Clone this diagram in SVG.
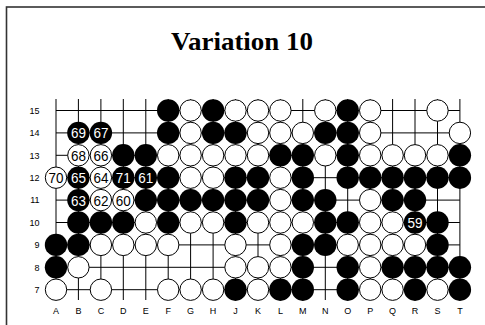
<svg xmlns="http://www.w3.org/2000/svg" width="485" height="325" viewBox="0 0 485 325">
<style>
.grid line{stroke:#000;stroke-width:1}
.b{fill:#000}
.w{fill:#fff;stroke:#000;stroke-width:1}
.lbl{font-family:"Liberation Sans",Arial,sans-serif;font-size:9px;fill:#000}
.nb{font-family:"Liberation Sans",Arial,sans-serif;font-size:15px;fill:#fff;text-anchor:middle}
.nw{font-family:"Liberation Sans",Arial,sans-serif;font-size:15px;fill:#000;text-anchor:middle}
</style>
<rect x="0" y="0" width="485" height="325" fill="#fff"/>
<rect x="6.5" y="7" width="520" height="340" fill="none" stroke="#333" stroke-width="1.6"/>
<text x="242" y="50" text-anchor="middle" font-family="'Liberation Serif','Times New Roman',serif" font-weight="bold" font-size="25" textLength="142" lengthAdjust="spacingAndGlyphs">Variation 10</text>
<g id="connectors" class="grid">
<line x1="56" y1="110.5" x2="459.9" y2="110.5"/>
<line x1="56" y1="132.9" x2="459.9" y2="132.9"/>
<line x1="56" y1="155.3" x2="459.9" y2="155.3"/>
<line x1="56" y1="177.7" x2="459.9" y2="177.7"/>
<line x1="56" y1="200.1" x2="459.9" y2="200.1"/>
<line x1="56" y1="222.5" x2="459.9" y2="222.5"/>
<line x1="56" y1="244.9" x2="459.9" y2="244.9"/>
<line x1="56" y1="267.3" x2="459.9" y2="267.3"/>
<line x1="56" y1="289.7" x2="459.9" y2="289.7"/>
<line x1="56" y1="99" x2="56" y2="300"/>
<line x1="78.4" y1="99" x2="78.4" y2="300"/>
<line x1="100.9" y1="99" x2="100.9" y2="300"/>
<line x1="123.3" y1="99" x2="123.3" y2="300"/>
<line x1="145.8" y1="99" x2="145.8" y2="300"/>
<line x1="168.2" y1="99" x2="168.2" y2="300"/>
<line x1="190.6" y1="99" x2="190.6" y2="300"/>
<line x1="213.1" y1="99" x2="213.1" y2="300"/>
<line x1="235.5" y1="99" x2="235.5" y2="300"/>
<line x1="258" y1="99" x2="258" y2="300"/>
<line x1="280.4" y1="99" x2="280.4" y2="300"/>
<line x1="302.8" y1="99" x2="302.8" y2="300"/>
<line x1="325.3" y1="99" x2="325.3" y2="300"/>
<line x1="347.7" y1="99" x2="347.7" y2="300"/>
<line x1="370.2" y1="99" x2="370.2" y2="300"/>
<line x1="392.6" y1="99" x2="392.6" y2="300"/>
<line x1="415" y1="99" x2="415" y2="300"/>
<line x1="437.5" y1="99" x2="437.5" y2="300"/>
<line x1="459.9" y1="99" x2="459.9" y2="300"/>
</g>
<g id="labels" class="lbl">
<g text-anchor="end">
<text x="39.5" y="113.7">15</text>
<text x="39.5" y="136.1">14</text>
<text x="39.5" y="158.5">13</text>
<text x="39.5" y="180.9">12</text>
<text x="39.5" y="203.3">11</text>
<text x="39.5" y="225.7">10</text>
<text x="39.5" y="248.1">9</text>
<text x="39.5" y="270.5">8</text>
<text x="39.5" y="292.9">7</text>
</g>
<g text-anchor="middle">
<text x="56" y="313.5">A</text>
<text x="78.4" y="313.5">B</text>
<text x="100.9" y="313.5">C</text>
<text x="123.3" y="313.5">D</text>
<text x="145.8" y="313.5">E</text>
<text x="168.2" y="313.5">F</text>
<text x="190.6" y="313.5">G</text>
<text x="213.1" y="313.5">H</text>
<text x="235.5" y="313.5">J</text>
<text x="258" y="313.5">K</text>
<text x="280.4" y="313.5">L</text>
<text x="302.8" y="313.5">M</text>
<text x="325.3" y="313.5">N</text>
<text x="347.7" y="313.5">O</text>
<text x="370.2" y="313.5">P</text>
<text x="392.6" y="313.5">Q</text>
<text x="415" y="313.5">R</text>
<text x="437.5" y="313.5">S</text>
<text x="459.9" y="313.5">T</text>
</g>
</g>
<g id="stones">
<!-- row 15 -->
<circle id="F15" class="b" cx="168.2" cy="110.5" r="11.2"/>
<circle id="G15" class="w" cx="190.6" cy="110.5" r="10.7"/>
<circle id="H15" class="b" cx="213.1" cy="110.5" r="11.2"/>
<circle id="J15" class="w" cx="235.5" cy="110.5" r="10.7"/>
<circle id="K15" class="w" cx="258" cy="110.5" r="10.7"/>
<circle id="L15" class="w" cx="280.4" cy="110.5" r="10.7"/>
<circle id="N15" class="w" cx="325.3" cy="110.5" r="10.7"/>
<circle id="O15" class="b" cx="347.7" cy="110.5" r="11.2"/>
<circle id="P15" class="w" cx="370.2" cy="110.5" r="10.7"/>
<circle id="S15" class="w" cx="437.5" cy="110.5" r="10.7"/>
<!-- row 14 -->
<g id="B14"><circle class="b" cx="78.4" cy="132.9" r="11.2"/><text class="nb" x="78.4" y="138.3" textLength="15" lengthAdjust="spacingAndGlyphs">69</text></g>
<g id="C14"><circle class="b" cx="100.9" cy="132.9" r="11.2"/><text class="nb" x="100.9" y="138.3" textLength="15" lengthAdjust="spacingAndGlyphs">67</text></g>
<circle id="F14" class="b" cx="168.2" cy="132.9" r="11.2"/>
<circle id="G14" class="w" cx="190.6" cy="132.9" r="10.7"/>
<circle id="H14" class="b" cx="213.1" cy="132.9" r="11.2"/>
<circle id="J14" class="b" cx="235.5" cy="132.9" r="11.2"/>
<circle id="K14" class="w" cx="258" cy="132.9" r="10.7"/>
<circle id="L14" class="w" cx="280.4" cy="132.9" r="10.7"/>
<circle id="M14" class="w" cx="302.8" cy="132.9" r="10.7"/>
<circle id="N14" class="b" cx="325.3" cy="132.9" r="11.2"/>
<circle id="O14" class="b" cx="347.7" cy="132.9" r="11.2"/>
<circle id="P14" class="w" cx="370.2" cy="132.9" r="10.7"/>
<circle id="T14" class="w" cx="459.9" cy="132.9" r="10.7"/>
<!-- row 13 -->
<g id="B13"><circle class="w" cx="78.4" cy="155.3" r="10.7"/><text class="nw" x="78.4" y="160.7" textLength="15" lengthAdjust="spacingAndGlyphs">68</text></g>
<g id="C13"><circle class="w" cx="100.9" cy="155.3" r="10.7"/><text class="nw" x="100.9" y="160.7" textLength="15" lengthAdjust="spacingAndGlyphs">66</text></g>
<circle id="D13" class="b" cx="123.3" cy="155.3" r="11.2"/>
<circle id="E13" class="b" cx="145.8" cy="155.3" r="11.2"/>
<circle id="F13" class="w" cx="168.2" cy="155.3" r="10.7"/>
<circle id="G13" class="w" cx="190.6" cy="155.3" r="10.7"/>
<circle id="H13" class="w" cx="213.1" cy="155.3" r="10.7"/>
<circle id="J13" class="w" cx="235.5" cy="155.3" r="10.7"/>
<circle id="K13" class="w" cx="258" cy="155.3" r="10.7"/>
<circle id="L13" class="b" cx="280.4" cy="155.3" r="11.2"/>
<circle id="M13" class="b" cx="302.8" cy="155.3" r="11.2"/>
<circle id="N13" class="w" cx="325.3" cy="155.3" r="10.7"/>
<circle id="O13" class="b" cx="347.7" cy="155.3" r="11.2"/>
<circle id="P13" class="w" cx="370.2" cy="155.3" r="10.7"/>
<circle id="Q13" class="w" cx="392.6" cy="155.3" r="10.7"/>
<circle id="R13" class="w" cx="415" cy="155.3" r="10.7"/>
<circle id="S13" class="w" cx="437.5" cy="155.3" r="10.7"/>
<circle id="T13" class="b" cx="459.9" cy="155.3" r="11.2"/>
<!-- row 12 -->
<g id="A12"><circle class="w" cx="56" cy="177.7" r="10.7"/><text class="nw" x="56" y="183.1" textLength="15" lengthAdjust="spacingAndGlyphs">70</text></g>
<g id="B12"><circle class="b" cx="78.4" cy="177.7" r="11.2"/><text class="nb" x="78.4" y="183.1" textLength="15" lengthAdjust="spacingAndGlyphs">65</text></g>
<g id="C12"><circle class="w" cx="100.9" cy="177.7" r="10.7"/><text class="nw" x="100.9" y="183.1" textLength="15" lengthAdjust="spacingAndGlyphs">64</text></g>
<g id="D12"><circle class="b" cx="123.3" cy="177.7" r="11.2"/><text class="nb" x="123.3" y="183.1" textLength="15" lengthAdjust="spacingAndGlyphs">71</text></g>
<g id="E12"><circle class="b" cx="145.8" cy="177.7" r="11.2"/><text class="nb" x="145.8" y="183.1" textLength="15" lengthAdjust="spacingAndGlyphs">61</text></g>
<circle id="F12" class="b" cx="168.2" cy="177.7" r="11.2"/>
<circle id="G12" class="w" cx="190.6" cy="177.7" r="10.7"/>
<circle id="H12" class="w" cx="213.1" cy="177.7" r="10.7"/>
<circle id="J12" class="b" cx="235.5" cy="177.7" r="11.2"/>
<circle id="K12" class="b" cx="258" cy="177.7" r="11.2"/>
<circle id="L12" class="w" cx="280.4" cy="177.7" r="10.7"/>
<circle id="M12" class="b" cx="302.8" cy="177.7" r="11.2"/>
<circle id="O12" class="b" cx="347.7" cy="177.7" r="11.2"/>
<circle id="P12" class="b" cx="370.2" cy="177.7" r="11.2"/>
<circle id="Q12" class="b" cx="392.6" cy="177.7" r="11.2"/>
<circle id="R12" class="b" cx="415" cy="177.7" r="11.2"/>
<circle id="S12" class="b" cx="437.5" cy="177.7" r="11.2"/>
<circle id="T12" class="b" cx="459.9" cy="177.7" r="11.2"/>
<!-- row 11 -->
<g id="B11"><circle class="b" cx="78.4" cy="200.1" r="11.2"/><text class="nb" x="78.4" y="205.5" textLength="15" lengthAdjust="spacingAndGlyphs">63</text></g>
<g id="C11"><circle class="w" cx="100.9" cy="200.1" r="10.7"/><text class="nw" x="100.9" y="205.5" textLength="15" lengthAdjust="spacingAndGlyphs">62</text></g>
<g id="D11"><circle class="w" cx="123.3" cy="200.1" r="10.7"/><text class="nw" x="123.3" y="205.5" textLength="15" lengthAdjust="spacingAndGlyphs">60</text></g>
<circle id="E11" class="b" cx="145.8" cy="200.1" r="11.2"/>
<circle id="F11" class="b" cx="168.2" cy="200.1" r="11.2"/>
<circle id="G11" class="b" cx="190.6" cy="200.1" r="11.2"/>
<circle id="H11" class="b" cx="213.1" cy="200.1" r="11.2"/>
<circle id="J11" class="b" cx="235.5" cy="200.1" r="11.2"/>
<circle id="K11" class="b" cx="258" cy="200.1" r="11.2"/>
<circle id="L11" class="w" cx="280.4" cy="200.1" r="10.7"/>
<circle id="M11" class="b" cx="302.8" cy="200.1" r="11.2"/>
<circle id="N11" class="b" cx="325.3" cy="200.1" r="11.2"/>
<circle id="P11" class="w" cx="370.2" cy="200.1" r="10.7"/>
<circle id="Q11" class="b" cx="392.6" cy="200.1" r="11.2"/>
<circle id="R11" class="b" cx="415" cy="200.1" r="11.2"/>
<!-- row 10 -->
<circle id="B10" class="b" cx="78.4" cy="222.5" r="11.2"/>
<circle id="C10" class="b" cx="100.9" cy="222.5" r="11.2"/>
<circle id="D10" class="b" cx="123.3" cy="222.5" r="11.2"/>
<circle id="E10" class="w" cx="145.8" cy="222.5" r="10.7"/>
<circle id="F10" class="b" cx="168.2" cy="222.5" r="11.2"/>
<circle id="G10" class="w" cx="190.6" cy="222.5" r="10.7"/>
<circle id="H10" class="w" cx="213.1" cy="222.5" r="10.7"/>
<circle id="J10" class="b" cx="235.5" cy="222.5" r="11.2"/>
<circle id="K10" class="w" cx="258" cy="222.5" r="10.7"/>
<circle id="L10" class="w" cx="280.4" cy="222.5" r="10.7"/>
<circle id="M10" class="w" cx="302.8" cy="222.5" r="10.7"/>
<circle id="N10" class="b" cx="325.3" cy="222.5" r="11.2"/>
<circle id="O10" class="b" cx="347.7" cy="222.5" r="11.2"/>
<circle id="P10" class="w" cx="370.2" cy="222.5" r="10.7"/>
<circle id="Q10" class="w" cx="392.6" cy="222.5" r="10.7"/>
<g id="R10"><circle class="b" cx="415" cy="222.5" r="11.2"/><text class="nb" x="415" y="227.9" textLength="15" lengthAdjust="spacingAndGlyphs">59</text></g>
<circle id="S10" class="b" cx="437.5" cy="222.5" r="11.2"/>
<!-- row 9 -->
<circle id="A9" class="b" cx="56" cy="244.9" r="11.2"/>
<circle id="B9" class="b" cx="78.4" cy="244.9" r="11.2"/>
<circle id="C9" class="w" cx="100.9" cy="244.9" r="10.7"/>
<circle id="D9" class="w" cx="123.3" cy="244.9" r="10.7"/>
<circle id="E9" class="w" cx="145.8" cy="244.9" r="10.7"/>
<circle id="F9" class="w" cx="168.2" cy="244.9" r="10.7"/>
<circle id="J9" class="w" cx="235.5" cy="244.9" r="10.7"/>
<circle id="L9" class="w" cx="280.4" cy="244.9" r="10.7"/>
<circle id="M9" class="b" cx="302.8" cy="244.9" r="11.2"/>
<circle id="N9" class="b" cx="325.3" cy="244.9" r="11.2"/>
<circle id="O9" class="w" cx="347.7" cy="244.9" r="10.7"/>
<circle id="P9" class="w" cx="370.2" cy="244.9" r="10.7"/>
<circle id="Q9" class="w" cx="392.6" cy="244.9" r="10.7"/>
<circle id="R9" class="w" cx="415" cy="244.9" r="10.7"/>
<circle id="S9" class="b" cx="437.5" cy="244.9" r="11.2"/>
<!-- row 8 -->
<circle id="A8" class="b" cx="56" cy="267.3" r="11.2"/>
<circle id="B8" class="w" cx="78.4" cy="267.3" r="10.7"/>
<circle id="J8" class="w" cx="235.5" cy="267.3" r="10.7"/>
<circle id="K8" class="w" cx="258" cy="267.3" r="10.7"/>
<circle id="L8" class="w" cx="280.4" cy="267.3" r="10.7"/>
<circle id="M8" class="b" cx="302.8" cy="267.3" r="11.2"/>
<circle id="O8" class="b" cx="347.7" cy="267.3" r="11.2"/>
<circle id="P8" class="w" cx="370.2" cy="267.3" r="10.7"/>
<circle id="Q8" class="b" cx="392.6" cy="267.3" r="11.2"/>
<circle id="R8" class="b" cx="415" cy="267.3" r="11.2"/>
<circle id="S8" class="b" cx="437.5" cy="267.3" r="11.2"/>
<circle id="T8" class="b" cx="459.9" cy="267.3" r="11.2"/>
<!-- row 7 -->
<circle id="A7" class="w" cx="56" cy="289.7" r="10.7"/>
<circle id="C7" class="w" cx="100.9" cy="289.7" r="10.7"/>
<circle id="F7" class="w" cx="168.2" cy="289.7" r="10.7"/>
<circle id="G7" class="w" cx="190.6" cy="289.7" r="10.7"/>
<circle id="H7" class="w" cx="213.1" cy="289.7" r="10.7"/>
<circle id="J7" class="b" cx="235.5" cy="289.7" r="11.2"/>
<circle id="K7" class="w" cx="258" cy="289.7" r="10.7"/>
<circle id="L7" class="b" cx="280.4" cy="289.7" r="11.2"/>
<circle id="M7" class="b" cx="302.8" cy="289.7" r="11.2"/>
<circle id="O7" class="b" cx="347.7" cy="289.7" r="11.2"/>
<circle id="P7" class="w" cx="370.2" cy="289.7" r="10.7"/>
<circle id="Q7" class="w" cx="392.6" cy="289.7" r="10.7"/>
<circle id="R7" class="b" cx="415" cy="289.7" r="11.2"/>
<circle id="S7" class="w" cx="437.5" cy="289.7" r="10.7"/>
<circle id="T7" class="b" cx="459.9" cy="289.7" r="11.2"/>
</g>
</svg>
